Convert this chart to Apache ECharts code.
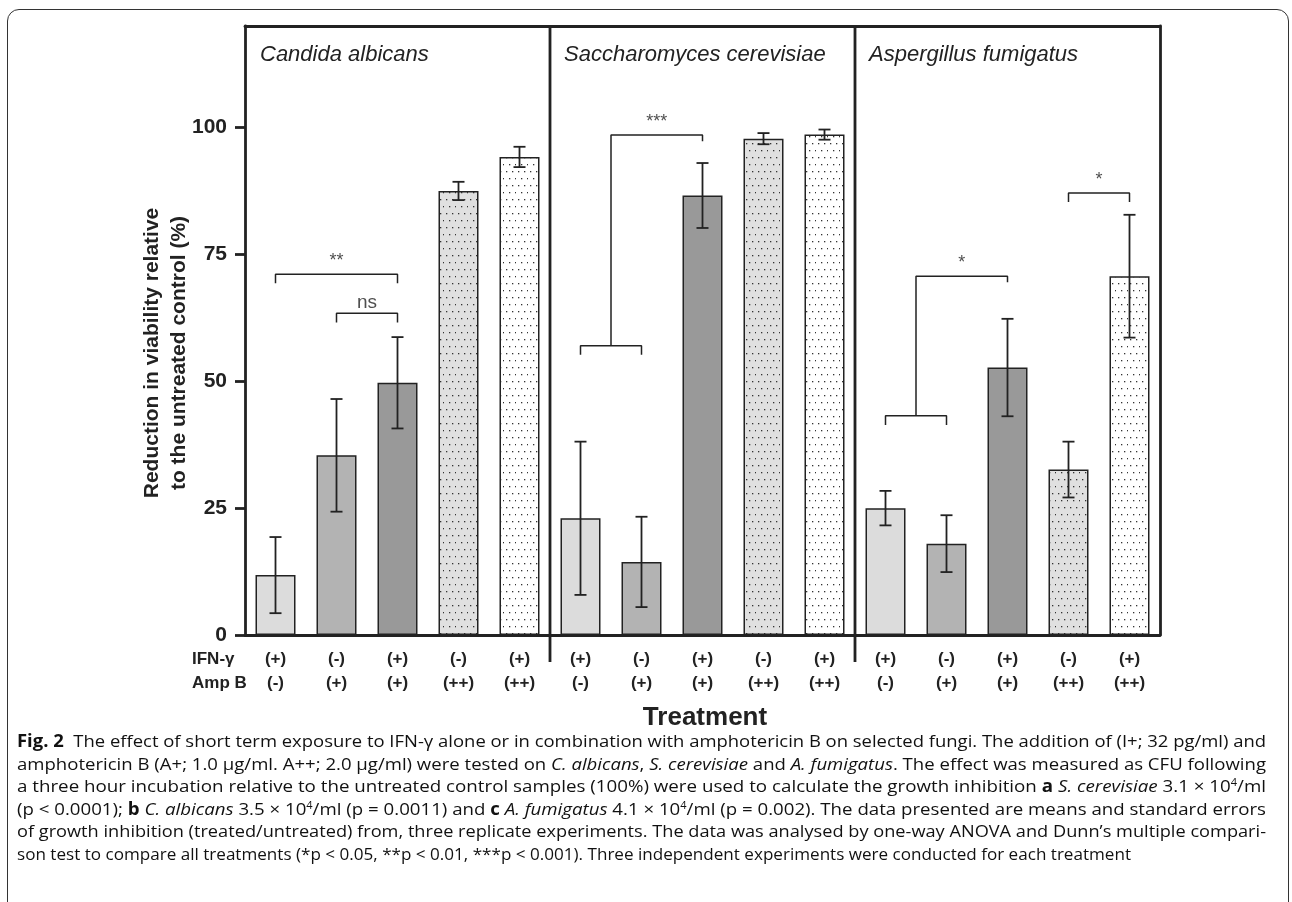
<!DOCTYPE html>
<html>
<head>
<meta charset="utf-8">
<script src="https://cdn.jsdelivr.net/npm/echarts@6.0.0/dist/echarts.min.js"></script>
<style>
  html, body { margin: 0; padding: 0; background: #fff; }
  #wrap { position: relative; width: 1292px; height: 902px; overflow: hidden; }
  #chart { position: absolute; left: 0; top: 0; width: 1292px; height: 902px; }
  #frame { position: absolute; left: 7px; top: 9px; width: 1282px; height: 905px;
    border: 1px solid #333; border-radius: 12px; pointer-events: none; box-sizing: border-box; }
  #caption { position: absolute; left: 17px; top: 730px; font-family: "Open Sans", sans-serif;
    font-size: 17px; line-height: 22.5px; color: #111; }
  #caption .ln { white-space: nowrap; transform-origin: 0 50%; display: block; width: max-content; }
  #caption sup { font-size: 10px; line-height: 0; vertical-align: 6px; }
</style>
</head>
<body>
<div id="wrap">
  <div id="chart"></div>
  <div id="caption">
    <div class="ln" data-w="1249"><b>Fig. 2</b>&nbsp; The effect of short term exposure to IFN-γ alone or in combination with amphotericin B on selected fungi. The addition of (I+; 32 pg/ml) and</div>
    <div class="ln" data-w="1249">amphotericin B (A+; 1.0 µg/ml. A++; 2.0 µg/ml) were tested on <i>C. albicans</i>, <i>S. cerevisiae</i> and <i>A. fumigatus</i>. The effect was measured as CFU following</div>
    <div class="ln" data-w="1249">a three hour incubation relative to the untreated control samples (100%) were used to calculate the growth inhibition <b>a</b> <i>S. cerevisiae</i> 3.1 × 10<sup>4</sup>/ml</div>
    <div class="ln" data-w="1249">(p &lt; 0.0001); <b>b</b> <i>C. albicans</i> 3.5 × 10<sup>4</sup>/ml (p = 0.0011) and <b>c</b> <i>A. fumigatus</i> 4.1 × 10<sup>4</sup>/ml (p = 0.002). The data presented are means and standard errors</div>
    <div class="ln" data-w="1249">of growth inhibition (treated/untreated) from, three replicate experiments. The data was analysed by one-way ANOVA and Dunn’s multiple compari-</div>
    <div class="ln" data-w="1114">son test to compare all treatments (*p &lt; 0.05, **p &lt; 0.01, ***p &lt; 0.001). Three independent experiments were conducted for each treatment</div>
  </div>
  <div id="frame"></div>
</div>
<script>
// tick labels under each bar
const ifnLabels = ['(+)', '(-)', '(+)', '(-)', '(+)', '(+)', '(-)', '(+)', '(-)', '(+)', '(+)', '(-)', '(+)', '(-)', '(+)'];
const ampLabels = ['(-)', '(+)', '(+)', '(++)', '(++)', '(-)', '(+)', '(+)', '(++)', '(++)', '(-)', '(+)', '(+)', '(++)', '(++)'];
const species = ['Candida albicans', 'Saccharomyces cerevisiae', 'Aspergillus fumigatus'];

// means and error bars (% reduction)
const candidaMean = [11.8, 35.4, 49.7, 87.5, 94.2];
const candidaErr = [7.5, 11.1, 9.0, 1.8, 2.0];
const saccharoMean = [23.0, 14.4, 86.6, 97.8, 98.6];
const saccharoErr = [15.1, 8.9, 6.4, 1.1, 1.0];
const aspergillusMean = [25.0, 18.0, 52.7, 32.6, 70.7];
const aspergillusErr = [3.4, 5.6, 9.6, 5.5, 12.1];

const yTicks = [0, 25, 50, 75, 100];

// significance brackets
const sigLabels = ['**', 'ns', '***', '*', '*'];
const sigFrom = [0, 1, 5, 10, 13];
const sigTo = [2, 2, 7, 12, 14];
const sigY = [71.1, 63.4, 98.5, 70.7, 87.1];
const sigBase = [null, null, 57.0, 43.2, null]; // pooled pair bracket height

const means = candidaMean.concat(saccharoMean, aspergillusMean);
const errs = candidaErr.concat(saccharoErr, aspergillusErr);

function dots(bg) {
  const c = document.createElement('canvas');
  c.width = 12; c.height = 14;
  const ctx = c.getContext('2d');
  ctx.fillStyle = bg;
  ctx.fillRect(0, 0, 12, 14);
  ctx.fillStyle = '#333';
  [[2, 3], [8, 3], [5, 10], [11, 10]].forEach(function (p) { ctx.fillRect(p[0], p[1], 1.3, 1.3); });
  return { image: c, repeat: 'repeat' };
}
const fills = ['#dcdcdc', '#b3b3b3', '#999999', dots('#e0e0e0'), dots('#ffffff')];

const barData = means.map(function (v, i) {
  return { value: v, itemStyle: { color: fills[i % 5] } };
});
const errData = means.map(function (v, i) { return [i, v - errs[i], v + errs[i]]; });

const ink = '#222';
const font = '"Liberation Sans", Arial';
const series = [
  {
    type: 'bar',
    data: barData,
    barWidth: 40,
    itemStyle: { borderColor: ink, borderWidth: 1.5 },
    silent: true,
    z: 2
  },
  {
    type: 'custom',
    data: errData,
    z: 3,
    silent: true,
    renderItem: function (params, api) {
      const lo = api.coord([api.value(0), api.value(1)]);
      const hi = api.coord([api.value(0), api.value(2)]);
      const hw = 6;
      const st = { stroke: ink, lineWidth: 1.8 };
      return {
        type: 'group',
        children: [
          { type: 'line', shape: { x1: lo[0], y1: lo[1], x2: hi[0], y2: hi[1] }, style: st },
          { type: 'line', shape: { x1: lo[0] - hw, y1: lo[1], x2: lo[0] + hw, y2: lo[1] }, style: st },
          { type: 'line', shape: { x1: hi[0] - hw, y1: hi[1], x2: hi[0] + hw, y2: hi[1] }, style: st }
        ]
      };
    }
  }
];

function pathSeries(points, width) {
  return {
    type: 'line', xAxisIndex: 1, yAxisIndex: 0, data: points,
    symbol: 'none', clip: false, silent: true, z: 4,
    lineStyle: { color: ink, width: width }
  };
}

// group dividers
[4.5, 9.5].forEach(function (x) { series.push(pathSeries([[x, 120], [x, -5.3]], 2.8)); });

// brackets
sigLabels.forEach(function (lab, k) {
  const a = sigFrom[k], b = sigTo[k], y = sigY[k];
  let xc;
  if (sigBase[k] === null) {
    series.push(pathSeries([[a, y - 1.8], [a, y], [b, y], [b, y - 1.8]], 1.5));
    xc = (a + b) / 2;
  } else {
    const base = sigBase[k];
    series.push(pathSeries([[a, base - 1.8], [a, base], [a + 1, base], [a + 1, base - 1.8]], 1.5));
    series.push(pathSeries([[a + 0.5, base], [a + 0.5, y], [b, y], [b, y - 1.2]], 1.5));
    xc = (a + 0.5 + b) / 2;
  }
  const isText = lab === 'ns';
  series.push({
    type: 'scatter', xAxisIndex: 1, yAxisIndex: 0, symbolSize: 0, silent: true,
    data: [[xc, y]],
    label: {
      show: true, position: 'top', distance: isText ? 1 : 4,
      formatter: lab, color: ink,
      fontFamily: font, fontSize: isText ? 19 : 18
    }
  });
});

const chart = echarts.init(document.getElementById('chart'));
chart.setOption({
  animation: false,
  backgroundColor: '#fff',
  grid: { left: 245, right: 132, top: 26, bottom: 267 },
  xAxis: [
    {
      type: 'category',
      data: ifnLabels.map(function (s, i) { return s + '\n' + ampLabels[i]; }),
      axisLine: { onZero: false, lineStyle: { color: ink, width: 2.8 } },
      axisTick: { alignWithLabel: true, length: 9, lineStyle: { color: ink, width: 3 } },
      axisLabel: {
        margin: 12, color: ink, fontFamily: font, fontWeight: 'bold',
        fontSize: 17, lineHeight: 24, interval: 0
      }
    },
    {
      type: 'value', position: 'top', min: -0.5, max: 14.5,
      axisLine: { show: true, onZero: false, lineStyle: { color: ink, width: 2.8 } },
      axisTick: { show: false }, axisLabel: { show: false }, splitLine: { show: false }
    }
  ],
  yAxis: [
    {
      type: 'value', min: 0, max: 120, interval: 25,
      axisLine: { show: true, onZero: false, lineStyle: { color: ink, width: 2.8 } },
      axisTick: { show: true, length: 10, customValues: yTicks, lineStyle: { color: ink, width: 2.8 } },
      axisLabel: {
        customValues: yTicks, margin: 18, color: ink,
        fontFamily: font, fontWeight: 'bold', fontSize: 21
      },
      splitLine: { show: false }
    },
    {
      type: 'value', position: 'right', min: 0, max: 120,
      axisLine: { show: true, onZero: false, lineStyle: { color: ink, width: 2.8 } },
      axisTick: { show: false }, axisLabel: { show: false }, splitLine: { show: false }
    }
  ],
  graphic: [
    { type: 'text', x: 260, y: 55, style: { text: species[0], font: 'italic 22px ' + font, fill: ink, textVerticalAlign: 'middle' } },
    { type: 'text', x: 564, y: 55, style: { text: species[1], font: 'italic 22px ' + font, fill: ink, textVerticalAlign: 'middle' } },
    { type: 'text', x: 869, y: 55, style: { text: species[2], font: 'italic 22px ' + font, fill: ink, textVerticalAlign: 'middle' } },
    { type: 'text', x: 166, y: 353, rotation: Math.PI / 2,
      style: { text: 'Reduction in viability relative\nto the untreated control (%)', font: 'bold 21px ' + font,
        lineHeight: 27, fill: ink, textAlign: 'center', textVerticalAlign: 'middle' } },
    { type: 'text', x: 192, y: 659, style: { text: 'IFN-γ', font: 'bold 17px ' + font, fill: ink, textVerticalAlign: 'middle' } },
    { type: 'text', x: 192, y: 683, style: { text: 'Amp B', font: 'bold 17px ' + font, fill: ink, textVerticalAlign: 'middle' } },
    { type: 'text', x: 705, y: 718, style: { text: 'Treatment', font: 'bold 26px ' + font, fill: ink, textAlign: 'center', textVerticalAlign: 'middle' } }
  ],
  series: series
});

function fitCaption() {
  document.querySelectorAll('#caption .ln').forEach(function (el) {
    el.style.transform = 'none';
    const w = el.getBoundingClientRect().width;
    el.style.transform = 'scaleX(' + (parseFloat(el.dataset.w) / w) + ')';
  });
}
fitCaption();
if (document.fonts && document.fonts.ready) document.fonts.ready.then(fitCaption);
</script>
</body>
</html>
